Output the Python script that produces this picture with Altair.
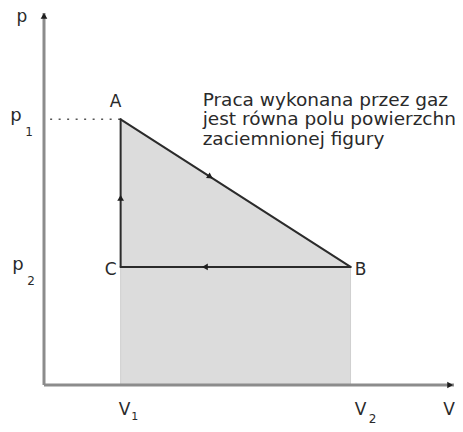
import altair as alt
import pandas as pd

# ---- data ----
V_vals = [1.0, 4.0]          # V1, V2
P_vals = [4.5, 2.0]          # p1, p2
X_MAX = 5.35
Y_MAX = 6.3
pt_names = ["A", "B", "C"]
pt_x = [1.0, 4.0, 1.0]
pt_y = [4.5, 2.0, 2.0]
seg_from = ["A", "B", "C"]
seg_to = ["B", "C", "A"]
marker_x = [2.17, 2.1, 1.0]
marker_y = [3.525, 2.0, 3.17]
marker_angle = [32.6, 180.0, 270.0]
note_lines = ["Praca wykonana przez gaz", "jest równa polu powierzchni", "zaciemnionej figury"]

FONT = "DejaVu Sans"
xs = alt.Scale(domain=[0, X_MAX], nice=False, zero=False)
ys = alt.Scale(domain=[0, Y_MAX], nice=False, zero=False)

pts = dict(zip(pt_names, zip(pt_x, pt_y)))

def X(f="x"):
    return alt.X(f"{f}:Q", scale=xs, axis=None)

def Y(f="y"):
    return alt.Y(f"{f}:Q", scale=ys, axis=None)

# shaded figure (A-B down to V axis)
fill_df = pd.DataFrame({"x": [pts["A"][0], pts["B"][0]], "y": [pts["A"][1], pts["B"][1]], "y0": [0, 0]})
fill = alt.Chart(fill_df).mark_area(color="#dcdcdc", opacity=1).encode(
    x=X(), y=Y(), y2="y0:Q")

edge_df = pd.DataFrame({"x": V_vals, "y": [0, 0], "y2": [pts["C"][1], pts["B"][1]]})
edges = alt.Chart(edge_df).mark_rule(color="#cfcfcf", strokeWidth=1).encode(
    x=X(), y=Y(), y2="y2:Q")

# axes
axes_df = pd.DataFrame({"x": [0, 0], "y": [0, 0], "x2": [X_MAX, 0], "y2": [0, Y_MAX]})
axes = alt.Chart(axes_df).mark_rule(color="#8c8c8c", strokeWidth=3).encode(
    x=X(), y=Y(), x2="x2:Q", y2="y2:Q")

arrow_df = pd.DataFrame({"x": [X_MAX - 0.05, 0], "y": [0, Y_MAX - 0.05], "shape": ["triangle-right", "triangle-up"]})
arrows = alt.Chart(arrow_df).mark_point(filled=True, color="#1e1e1e", opacity=1, size=45).encode(
    x=X(), y=Y(), shape=alt.Shape("shape:N", scale=None))

# dotted guide p1
dot_df = pd.DataFrame({"x": [0.08], "x2": [pts["A"][0]], "y": [P_vals[0]]})
dotted = alt.Chart(dot_df).mark_rule(color="#555555", strokeWidth=1.6, strokeDash=[2, 6.5]).encode(
    x=X(), x2="x2:Q", y=Y())

# cycle segments
seg_df = pd.DataFrame({
    "x": [pts[a][0] for a in seg_from], "y": [pts[a][1] for a in seg_from],
    "x2": [pts[b][0] for b in seg_to], "y2": [pts[b][1] for b in seg_to]})
segs = alt.Chart(seg_df).mark_rule(color="#2b2b2b", strokeWidth=2, strokeCap="round").encode(
    x=X(), y=Y(), x2="x2:Q", y2="y2:Q")

# direction markers
mk_df = pd.DataFrame({"x": marker_x, "y": marker_y, "a": marker_angle})
markers = alt.Chart(mk_df).mark_point(shape="triangle-right", filled=True, color="#1e1e1e", opacity=1, size=45).encode(
    x=X(), y=Y(), angle=alt.Angle("a:Q", scale=None))

def label(text, x, y, dx, dy, size, align="center"):
    df = pd.DataFrame({"x": [x], "y": [y], "t": [text]})
    return alt.Chart(df).mark_text(font=FONT, fontSize=size, color="#2a2a2a", align=align,
                                   baseline="alphabetic", dx=dx, dy=dy).encode(
        x=X(), y=Y(), text="t:N")

labels = [
    label("p", 0, Y_MAX, -22, 9, 17),
    label("p", 0, P_vals[0], -28, 2, 18),
    label("1", 0, P_vals[0], -15, 17, 12),
    label("p", 0, P_vals[1], -26, 3, 18),
    label("2", 0, P_vals[1], -13, 18, 12),
    label("V", V_vals[0], 0, 4, 30, 17),
    label("1", V_vals[0], 0, 14, 35, 11),
    label("V", V_vals[1], 0, 10, 30, 17),
    label("2", V_vals[1], 0, 22, 38, 12),
    label("V", X_MAX, 0, -5, 30, 17),
    label("A", pts["A"][0], pts["A"][1], -5, -12, 17),
    label("B", pts["B"][0], pts["B"][1], 10, 8, 17),
    label("C", pts["C"][0], pts["C"][1], -10, 8, 17),
    label(note_lines[0], pts["A"][0], pts["A"][1], 82, -13.5, 18.5, "left"),
    label(note_lines[1], pts["A"][0], pts["A"][1], 82, 6, 18.5, "left"),
    label(note_lines[2], pts["A"][0], pts["A"][1], 82, 25.5, 18.5, "left"),
]

chart = alt.layer(fill, edges, axes, arrows, dotted, segs, markers, *labels).properties(
    width=410, height=372,
    autosize=alt.AutoSizeParams(type="none"),
    padding={"left": 36, "top": 5, "right": 1, "bottom": 39},
    background="white",
).configure_view(stroke=None)

chart.save("out.html", embed_options={"renderer": "svg", "actions": False})
